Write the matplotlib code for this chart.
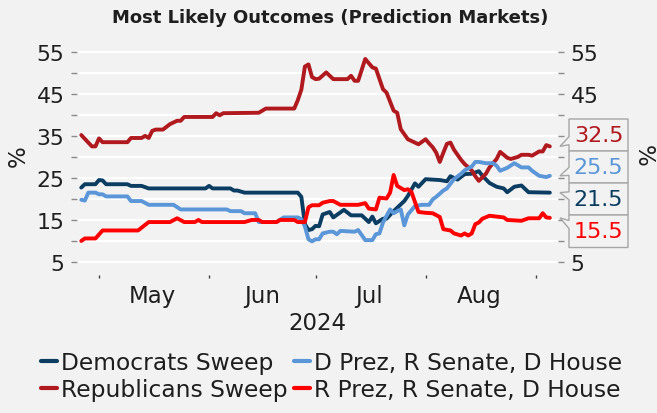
import matplotlib
matplotlib.use("Agg")
import matplotlib.pyplot as plt
import matplotlib.dates as mdates
from matplotlib.patches import Polygon
import pandas as pd

# days counted from 1 May 2024, values in %
base_date = pd.Timestamp("2024-05-01")

dem_days = [-5, -4, -1, 0, 1, 2, 8, 9, 12, 14, 30, 31, 32, 37, 38, 39, 41, 56, 57, 58, 59, 60, 61, 62, 63,
            65, 66, 69, 71, 74, 76, 77, 78, 80, 81, 83, 85, 86, 87, 89, 90, 92, 96, 98, 99, 101, 103, 105,
            107, 108, 110, 112, 114, 115, 117, 119, 121, 127]
dem_vals = [22.7, 23.5, 23.5, 24.5, 24.4, 23.5, 23.5, 23.1, 23.1, 22.5, 22.5, 23.1, 22.5, 22.5, 22.0, 22.0,
            21.5, 21.5, 20.5, 14.0, 12.6, 12.8, 13.6, 13.5, 16.3, 16.9, 15.6, 17.4, 16.1, 16.1, 14.5, 15.8,
            14.2, 15.3, 15.3, 17.1, 18.7, 19.5, 20.7, 23.7, 22.9, 24.7, 24.5, 24.2, 25.4, 24.6, 25.9, 26.0,
            26.6, 25.5, 23.8, 22.9, 22.5, 21.6, 22.9, 23.2, 21.6, 21.5]

lb_days = [-5, -4, -3, -1, 0, 1, 2, 8, 9, 12, 14, 21, 23, 36, 37, 40, 41, 44, 45, 50, 52, 56, 57, 58, 59,
           60, 61, 62, 63, 65, 66, 67, 68, 72, 73, 75, 77, 78, 79, 80, 82, 83, 84, 85, 86, 87, 89, 91, 93,
           94, 95, 97, 98, 100, 102, 103, 105, 106, 107, 109, 111, 112, 113, 115, 117, 119, 121, 122, 124,
           126, 127]
lb_vals = [19.8, 19.6, 21.5, 21.5, 21.1, 21.1, 20.6, 20.6, 19.5, 19.5, 18.6, 18.6, 17.5, 17.5, 17.1, 17.1,
           16.6, 16.6, 14.5, 14.5, 15.6, 15.6, 15.2, 13.5, 10.4, 9.9, 10.4, 10.4, 11.8, 12.2, 12.2, 11.6,
           12.4, 12.2, 12.6, 10.2, 10.2, 11.6, 11.8, 14.4, 17.5, 16.6, 17.1, 17.5, 13.7, 16.3, 18.3, 18.6,
           18.6, 19.9, 20.5, 22.0, 22.5, 24.7, 26.0, 26.8, 27.7, 28.8, 28.8, 28.5, 28.5, 27.9, 26.7, 27.4,
           28.5, 27.5, 27.5, 26.7, 25.5, 25.2, 25.5]

rs_days = [-5, -2, -1, 0, 1, 8, 9, 12, 13, 14, 15, 16, 18, 20, 22, 23, 24, 32, 33, 34, 35, 45, 47, 55, 56,
           57, 58, 59, 60, 61, 62, 64, 66, 70, 71, 72, 73, 75, 77, 78, 80, 81, 83, 84, 85, 87, 89, 90, 92,
           93, 94, 95, 96, 97, 98, 99, 100, 102, 103, 105, 106, 107, 109, 110, 112, 113, 115, 116, 118,
           119, 121, 122, 124, 125, 126, 127]
rs_vals = [35.2, 32.5, 32.5, 34.4, 33.5, 33.5, 34.5, 34.5, 35.0, 34.5, 36.2, 36.5, 36.5, 37.8, 38.6, 38.6,
           39.5, 39.5, 40.4, 39.9, 40.4, 40.5, 41.5, 41.5, 43.5, 46.0, 51.5, 52.0, 49.0, 48.5, 48.6, 50.1,
           48.5, 48.5, 49.3, 48.1, 48.1, 53.3, 51.3, 51.0, 46.1, 45.3, 41.0, 40.5, 36.6, 34.2, 33.4, 33.0,
           34.2, 33.2, 32.3, 31.0, 28.8, 31.0, 33.1, 33.4, 31.7, 29.3, 28.3, 26.8, 25.4, 24.3, 26.0, 27.5,
           29.5, 31.2, 29.8, 29.5, 30.0, 30.5, 30.5, 30.3, 31.3, 31.3, 32.8, 32.5]

rp_days = [-5, -4, -1, 1, 11, 14, 20, 22, 24, 27, 28, 29, 41, 43, 45, 46, 50, 51, 55, 56, 58, 59, 60, 62,
           63, 65, 66, 68, 73, 75, 76, 78, 79, 81, 82, 83, 84, 86, 87, 88, 90, 92, 94, 96, 97, 99, 100,
           102, 103, 104, 105, 106, 107, 108, 110, 112, 114, 115, 119, 121, 124, 125, 126, 127]
rp_vals = [10.0, 10.6, 10.6, 12.5, 12.5, 14.5, 14.5, 15.4, 14.5, 14.5, 15.0, 14.5, 14.5, 15.0, 15.0, 14.5,
           14.5, 15.0, 15.0, 14.5, 14.5, 18.0, 18.5, 18.5, 19.1, 19.5, 19.5, 18.6, 18.6, 19.0, 17.7, 17.5,
           20.3, 20.1, 21.5, 25.7, 23.1, 22.1, 22.3, 21.7, 16.9, 16.7, 16.6, 15.7, 12.8, 12.5, 11.8, 11.3,
           11.8, 11.3, 11.8, 14.0, 14.4, 15.3, 16.0, 15.8, 15.6, 15.0, 14.8, 15.4, 15.4, 16.6, 15.6, 15.5]

labels = ["Democrats Sweep", "Republicans Sweep", "D Prez, R Senate, D House", "R Prez, R Senate, D House"]
colors = ["#0B3D63", "#B0191E", "#5A96D8", "#FF0000"]
series = [(dem_days, dem_vals), (rs_days, rs_vals), (lb_days, lb_vals), (rp_days, rp_vals)]

bg = "#F2F2F2"
txt = "#1E1E1E"
W, H = 657, 414

fig = plt.figure(figsize=(W / 100, H / 100), dpi=100, facecolor=bg)
ax = fig.add_axes([77 / W, 1 - 275.6 / H, (558 - 77) / W, (275.6 - 36) / H], facecolor=bg)

for (days, vals), lab, col in zip(series, labels, colors):
    dates = base_date + pd.to_timedelta(days, unit="D")
    ax.plot(dates, vals, color=col, lw=2.8, label=lab, solid_joinstyle="round", solid_capstyle="round", zorder=3)

ax.set_xlim(base_date - pd.Timedelta(days=6.2), base_date + pd.Timedelta(days=129.3))
ax.set_ylim(2, 59)
for s in ax.spines.values():
    s.set_visible(False)

ax.set_yticks([5, 15, 25, 35, 45, 55])
ax.set_yticks([10, 20, 30, 40, 50], minor=True)
ax.grid(True, axis="y", which="both", color="white", lw=1.6, zorder=0)
ax.tick_params(axis="y", which="both", direction="out", length=4, width=1, color="#8C8C8C",
               left=True, right=True, labelleft=True, labelright=True, labelsize=15.8, labelcolor=txt, pad=5)
# right-hand 15/25/35 sit under the callout boxes
for tk in ax.yaxis.get_major_ticks()[1:4]:
    tk.label2.set_visible(False)

ax.xaxis.set_major_locator(mdates.MonthLocator())
ax.xaxis.set_major_formatter(plt.NullFormatter())
ax.xaxis.set_minor_locator(mdates.MonthLocator(bymonthday=16))
ax.xaxis.set_minor_formatter(mdates.DateFormatter("%b"))
ax.tick_params(axis="x", which="major", length=2, width=1, color="#404040")
ax.tick_params(axis="x", which="minor", length=0, pad=7, labelsize=16.5, labelcolor=txt)
ax.set_xlabel("2024", fontsize=16.5, color=txt, labelpad=3)

ax.set_title("Most Likely Outcomes (Prediction Markets)", fontsize=13, fontweight="bold", color=txt, pad=0,
             x=(330 - 77) / (558 - 77), y=(414 - 18 - (414 - 275.6)) / (275.6 - 36), va="center")

fig.text(18 / W, 1 - 156 / H, "%", rotation=90, ha="center", va="center", fontsize=16.5, color=txt)
fig.text(643 / W, 1 - 156 / H, "%", rotation=-90, ha="center", va="center", fontsize=16.5, color=txt)

leg = fig.legend(loc="upper left", bbox_to_anchor=(41 / W, 1 - 352 / H), ncol=2, frameon=False,
                 fontsize=16.8, handlelength=0.69, handletextpad=0.17, columnspacing=0.26,
                 labelspacing=0.17, borderpad=0, borderaxespad=0)
for h in leg.get_lines():
    h.set_linewidth(3)
for t in leg.get_texts():
    t.set_color(txt)

# callout labels with last values, stacked at the right edge
order = [1, 2, 0, 3]
edges = [120, 152, 184, 216, 248.5]
inv = fig.transFigure.inverted()
L, R = 569 / W, 628 / W
tip_x = 560 / W
for i, k in enumerate(order):
    days, vals = series[k]
    end = mdates.date2num(base_date + pd.Timedelta(days=days[-1]))
    tip_y = inv.transform(ax.transData.transform((end, vals[-1])))[1]
    top = 1 - edges[i] / H
    bot = 1 - edges[i + 1] / H
    mid = (top + bot) / 2
    base_c = (mid + tip_y) / 2
    hw = 4 / H
    base_c = min(max(base_c, bot + hw + 2 / H), top - hw - 2 / H)
    pts = [(L, top), (R, top), (R, bot), (L, bot), (L, base_c - hw), (tip_x, tip_y), (L, base_c + hw)]
    fig.patches.append(Polygon(pts, closed=True, transform=fig.transFigure, facecolor=bg,
                               edgecolor="#A6A6A6", lw=1, zorder=5))
    fig.text((L + R) / 2, mid, f"{vals[-1]:.1f}", ha="center", va="center", fontsize=16,
             color=colors[k], zorder=6)

fig.savefig("out.png", dpi=100, facecolor=bg)
